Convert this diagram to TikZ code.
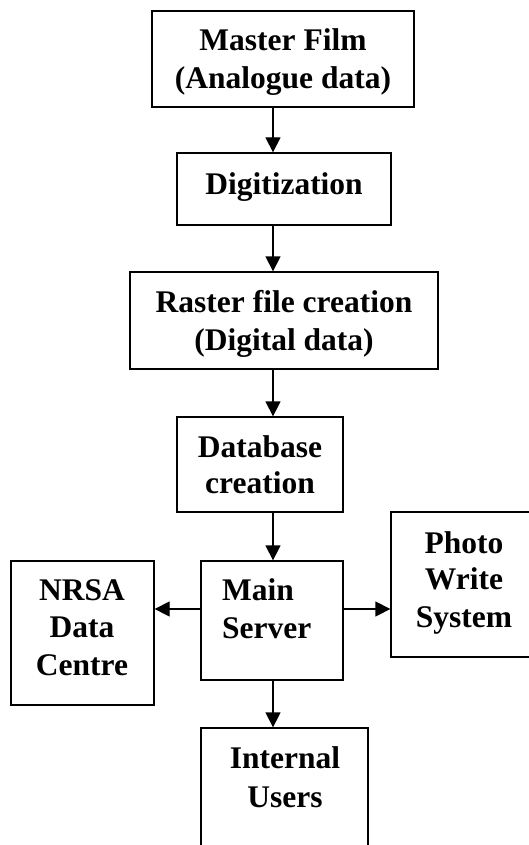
\documentclass[tikz,border=0pt]{standalone}
\usepackage{fontspec}
\setmainfont{Liberation Serif}
\usetikzlibrary{arrows.meta}
\begin{document}
\begin{tikzpicture}[x=1pt,y=-1pt,
  box/.style={draw, line width=1.3pt, rectangle, inner sep=0pt},
  lbl/.style={anchor=base, inner sep=0pt, font=\fontsize{31.5}{38}\selectfont\bfseries},
  arr/.style={line width=1.3pt, -{Triangle[length=15pt,width=15pt]}}]
\useasboundingbox (0,0) rectangle (529,845);
\clip (0,0) rectangle (529,845);

% boxes
\node[box, minimum width=262pt, minimum height=96pt]  (mf) at (283,59) {};
\node[box, minimum width=214pt, minimum height=72pt]  (dg) at (284,189) {};
\node[box, minimum width=308pt, minimum height=97pt]  (rf) at (284,320.5) {};
\node[box, minimum width=166pt, minimum height=95pt]  (db) at (260,464.5) {};
\node[box, minimum width=142pt, minimum height=119pt] (ms) at (272,620.5) {};
\node[box, minimum width=143pt, minimum height=144pt] (nr) at (82.5,633) {};
\node[box, minimum width=160pt, minimum height=145pt] (pw) at (471,584.5) {};
\node[box, minimum width=167pt, minimum height=150pt] (iu) at (284.5,803) {};

% labels
\node[lbl] (mf1) at (283,51) {Master Film};
\node[lbl] (mf2) at (283,89) {(Analogue data)};
\node[lbl] (dg1) at (284,194) {Digitization};
\node[lbl] (rf1) at (284,312) {Raster file creation};
\node[lbl] (rf2) at (284,350) {(Digital data)};
\node[lbl] (db1) at (260,457) {Database};
\node[lbl] (db2) at (260,493) {creation};
\node[lbl, anchor=base west] (ms1) at (222,600) {Main};
\node[lbl, anchor=base west] (ms2) at (222,638) {Server};
\node[lbl] (nr1) at (82,600) {NRSA};
\node[lbl] (nr2) at (82,637) {Data};
\node[lbl] (nr3) at (82,675) {Centre};
\node[lbl] (pw1) at (464,553) {Photo};
\node[lbl] (pw2) at (464,589) {Write};
\node[lbl] (pw3) at (464,627) {System};
\node[lbl] (iu1) at (285,768) {Internal};
\node[lbl] (iu2) at (285,807) {Users};

% connectors
\coordinate (spine) at (273,0);
\coordinate (hy) at (0,609);
\draw[arr] (mf.south -| spine) -- (dg.north -| spine);
\draw[arr] (dg.south -| spine) -- (rf.north -| spine);
\draw[arr] (rf.south -| spine) -- (db.north -| spine);
\draw[arr] (db.south -| spine) -- (ms.north -| spine);
\draw[arr] (ms.west |- hy) -- (nr.east |- hy);
\draw[arr] (ms.east |- hy) -- (pw.west |- hy);
\draw[arr] (ms.south -| spine) -- (iu.north -| spine);
\end{tikzpicture}
\end{document}
